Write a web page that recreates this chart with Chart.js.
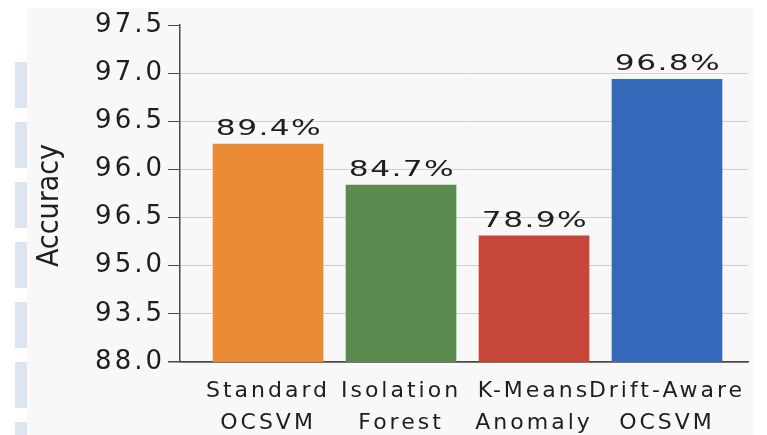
<!DOCTYPE html>
<html>
<head>
<meta charset="utf-8">
<script src="https://cdn.jsdelivr.net/npm/chart.js@4/dist/chart.umd.min.js"></script>
<style>
  html, body { margin: 0; padding: 0; background: #fff; }
  #wrap { position: relative; width: 767px; height: 435px; overflow: hidden; }
  #panel { position: absolute; left: 27px; top: 8px; width: 726px; height: 427px; background: #f8f8f8; }
  #stripes { position: absolute; left: 15px; top: 62px; width: 12px; height: 373px;
             background: repeating-linear-gradient(to bottom, #dde6f0 0 46px, rgba(255,255,255,0) 46px 60px); }
  canvas { position: absolute; left: 0; top: 0; }
</style>
</head>
<body>
<div id="wrap">
  <div id="panel"></div>
  <div id="stripes"></div>
  <canvas id="c" width="767" height="435"></canvas>
</div>
<script>
// Methods compared and their detection accuracy (%)
const methods = [['Standard', 'OCSVM'], ['Isolation', 'Forest'], ['K-Means', 'Anomaly'], ['Drift-Aware', 'OCSVM']];
const accuracy = [89.4, 84.7, 78.9, 96.8];
const barColors = ['#EC8B35', '#5A8B4E', '#C6463A', '#3468B8'];
// Labels printed on the evenly spaced y ticks, bottom to top
const yTickLabels = ['88.0', '93.5', '95.0', '96.5', '96.0', '96.5', '97.0', '97.5'];
const yTitle = 'Accuracy';

const yMin = 64.5, yStep = 5.5;
const yMax = yMin + yStep * (yTickLabels.length - 1);
const dark = '#4a4a4a';
const textColor = '#1e1e1e';
const FONT = "'DejaVu Sans', 'Open Sans', sans-serif";

const textPlugin = {
  id: 'textPlugin',
  beforeDraw(chart) {
    chart.ctx.letterSpacing = '3px';
  },
  afterDraw(chart) {
    const ctx = chart.ctx;
    const meta = chart.getDatasetMeta(0);
    // value labels above the bars, in a wide face
    meta.data.forEach((bar, i) => {
      ctx.save();
      ctx.letterSpacing = '1px';
      ctx.font = '22px ' + FONT;
      ctx.fillStyle = textColor;
      ctx.textAlign = 'center';
      ctx.textBaseline = 'alphabetic';
      ctx.translate(bar.x + 1, bar.y - 9);
      ctx.scale(1.42, 1);
      ctx.fillText(accuracy[i].toFixed(1) + '%', 0, 0);
      ctx.restore();
    });

    // rotated y-axis title
    const area = chart.chartArea;
    ctx.save();
    ctx.letterSpacing = '0px';
    ctx.font = "30px 'Liberation Sans Narrow', 'DejaVu Sans Condensed', sans-serif";
    ctx.fillStyle = textColor;
    ctx.textAlign = 'center';
    ctx.textBaseline = 'middle';
    ctx.translate(50, (area.top + area.bottom) / 2 + 12);
    ctx.rotate(-Math.PI / 2);
    ctx.fillText(yTitle, 0, 0);
    ctx.restore();
  }
};

new Chart(document.getElementById('c'), {
  type: 'bar',
  data: {
    datasets: [{
      data: accuracy.map((v, i) => ({ x: i, y: v })),
      backgroundColor: barColors,
      borderWidth: 0,
      barThickness: 110
    }]
  },
  options: {
    responsive: false,
    animation: false,
    devicePixelRatio: 1,
    layout: { padding: { left: 0, right: 19, top: 25, bottom: 0 } },
    plugins: { legend: { display: false }, tooltip: { enabled: false } },
    scales: {
      x: {
        type: 'linear',
        offset: false,
        min: -0.662,
        max: 3.609,
        afterBuildTicks: s => { s.ticks = methods.map((m, i) => ({ value: i })); },
        afterFit: s => { s.height = 73; },
        grid: { display: false, offset: false },
        border: { display: true, color: dark, width: 1.5 },
        ticks: {
          autoSkip: false,
          maxRotation: 0,
          padding: 5,
          color: textColor,
          font: { family: FONT, size: 22, lineHeight: 1.45 },
          callback: v => methods[Math.round(v)]
        }
      },
      y: {
        min: yMin,
        max: yMax,
        afterBuildTicks: s => { s.ticks = yTickLabels.map((t, i) => ({ value: yMin + i * yStep })); },
        afterFit: s => { s.width = 180; },
        border: { display: true, color: dark, width: 1.5 },
        grid: {
          color: c => c.index === 0 ? dark : (c.index === yTickLabels.length - 1 ? 'rgba(0,0,0,0)' : '#cfcfcf'),
          lineWidth: c => c.index === 0 ? 1.5 : 1,
          tickColor: dark,
          tickLength: 12,
          drawTicks: true
        },
        ticks: {
          padding: 3,
          color: textColor,
          font: { family: FONT, size: 26 },
          callback: (v, i) => yTickLabels[i]
        }
      }
    }
  },
  plugins: [textPlugin]
});
</script>
</body>
</html>
